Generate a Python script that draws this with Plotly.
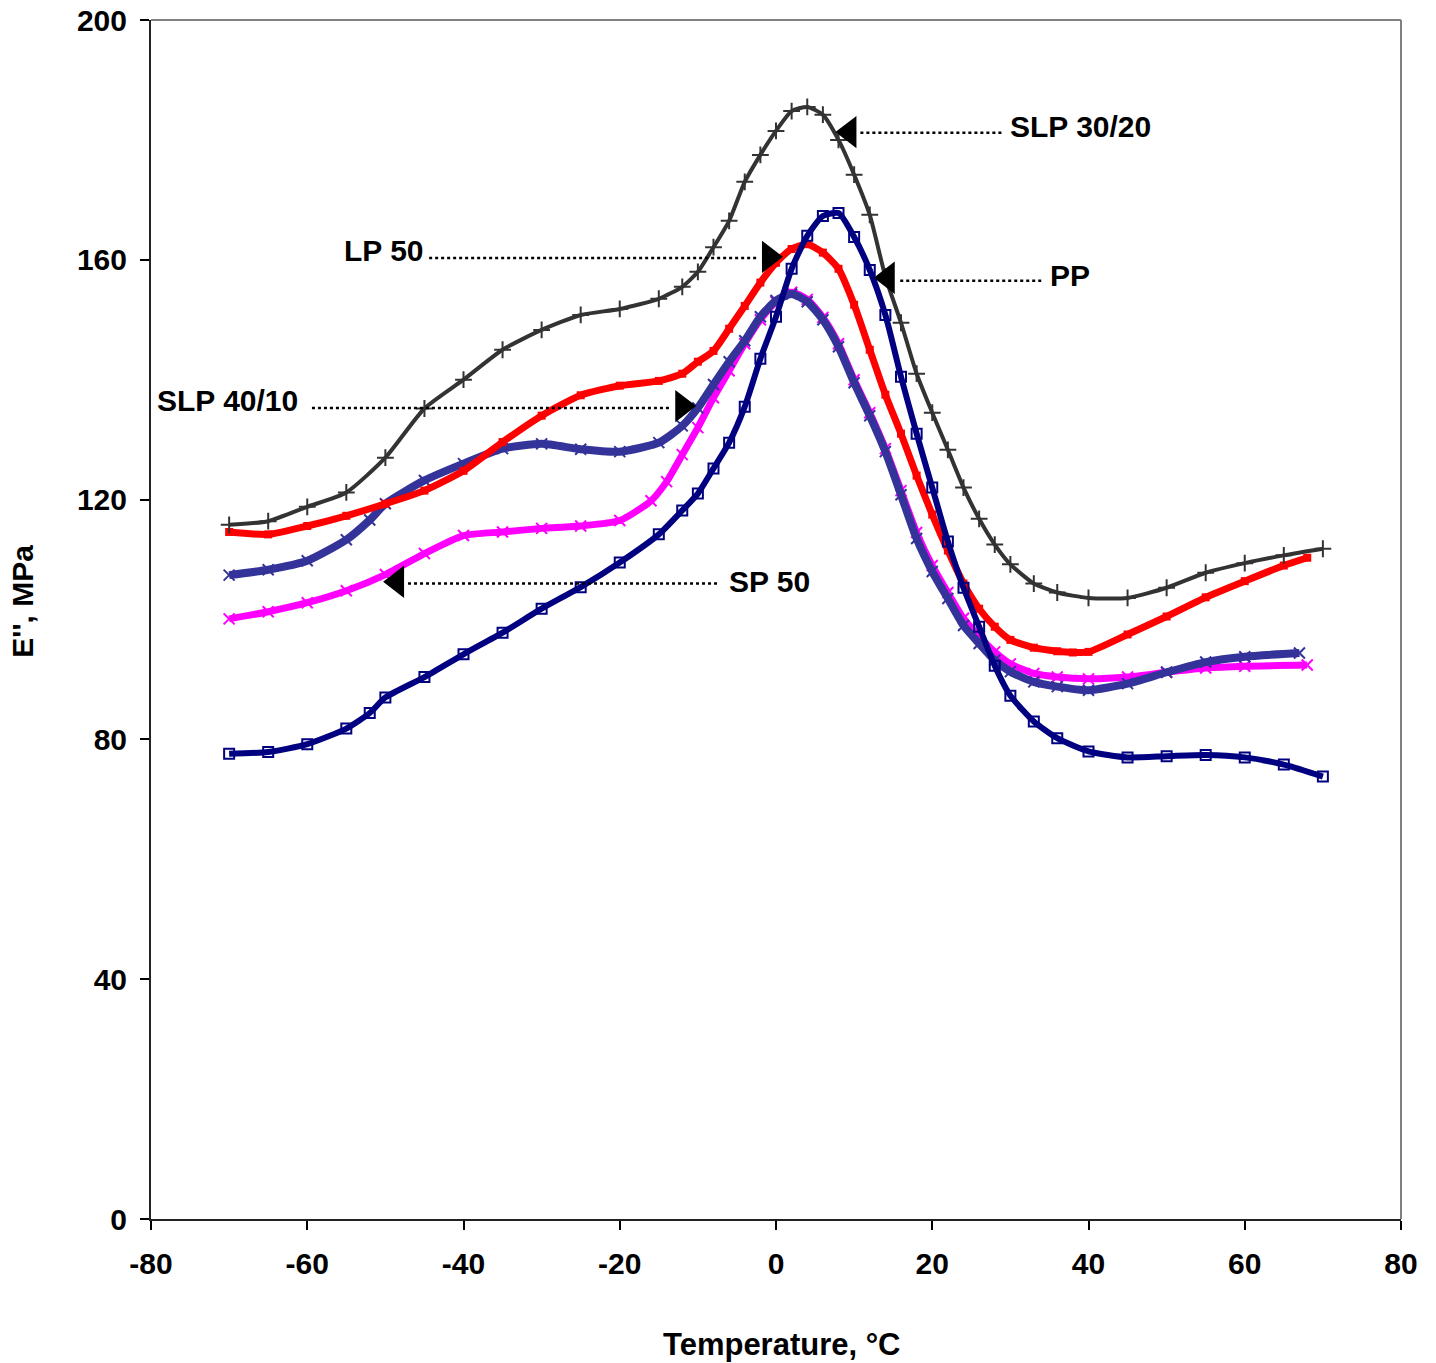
import plotly.graph_objects as go

# ---------------- data ----------------
slp3020_x = [-70, -65, -60, -55, -50, -45, -40, -35, -30, -25, -20, -15, -12, -10, -8, -6, -4, -2, 0, 2, 4, 6, 8, 10,
             12, 14, 16, 18, 20, 22, 24, 26, 28, 30, 33, 36, 40, 45, 50, 55, 60, 65, 70]
slp3020_y = [115.8, 116.4, 118.8, 121.2, 127.0, 135.2, 140.0, 145.0, 148.3, 150.8, 151.8, 153.5, 155.5, 158.0, 162.1,
             166.5, 173.0, 177.5, 181.5, 184.8, 185.5, 184.2, 180.0, 174.2, 167.5, 157.2, 149.5, 141.0, 134.5, 128.3,
             122.0, 116.8, 112.5, 109.2, 106.0, 104.5, 103.6, 103.6, 105.3, 107.8, 109.4, 110.7, 111.8]

lp50_x = [-70, -65, -60, -55, -50, -45, -40, -35, -30, -25, -20, -15, -12, -10, -8, -6, -4, -2, 0, 2, 4, 6, 8, 10,
          12, 14, 16, 18, 20, 22, 24, 26, 28, 30, 33, 36, 38, 40, 45, 50, 55, 60, 65, 68]
lp50_y = [114.6, 114.2, 115.6, 117.3, 119.3, 121.5, 124.8, 129.6, 134.0, 137.4, 139.0, 139.8, 141.0, 143.0, 144.8,
          148.5, 152.3, 156.2, 159.5, 161.8, 162.6, 161.2, 158.5, 152.5, 145.0, 137.5, 131.0, 124.0, 117.5, 111.5,
          106.0, 101.8, 98.8, 96.6, 95.3, 94.7, 94.5, 94.6, 97.5, 100.5, 103.7, 106.4, 109.0, 110.3]

pp_x = [-70, -65, -60, -55, -52, -50, -45, -40, -35, -30, -25, -20, -15, -12, -10, -8, -6, -4, -2, 0, 2, 4, 6, 8,
        10, 12, 14, 16, 18, 20, 22, 24, 26, 28, 30, 33, 36, 40, 45, 50, 55, 60, 65, 70]
pp_y = [77.6, 77.9, 79.2, 81.8, 84.4, 87.0, 90.4, 94.2, 97.8, 101.8, 105.4, 109.5, 114.2, 118.2, 121.0, 125.2, 129.5,
        135.5, 143.5, 150.5, 158.5, 164.0, 167.3, 167.8, 163.8, 158.3, 150.8, 140.5, 131.0, 122.0, 113.0, 105.3,
        98.8, 92.3, 87.3, 83.0, 80.2, 78.0, 77.0, 77.2, 77.4, 77.0, 75.8, 73.8]

slp4010_x = [-70, -65, -60, -55, -52, -50, -45, -40, -35, -30, -25, -20, -15, -12, -10, -8, -6, -4, -2, 0, 2, 4, 6,
             8, 10, 12, 14, 16, 18, 20, 22, 24, 26, 28, 30, 33, 36, 40, 45, 50, 55, 60, 67]
slp4010_y = [107.4, 108.3, 109.8, 113.3, 116.6, 119.3, 123.2, 126.0, 128.5, 129.3, 128.4, 128.0, 129.5, 132.3, 135.3,
             139.2, 143.0, 146.5, 150.5, 153.2, 154.3, 153.0, 150.0, 145.5, 139.5, 134.0, 128.0, 120.8, 113.5, 108.0,
             103.5, 99.0, 96.0, 93.2, 91.3, 89.6, 88.8, 88.2, 89.3, 91.2, 92.9, 93.8, 94.4]

sp50_x = [-70, -65, -60, -55, -50, -45, -40, -35, -30, -25, -20, -16, -14, -12, -10, -8, -6, -4, -2, 0, 2, 4, 6, 8,
          10, 12, 14, 16, 18, 20, 22, 24, 26, 28, 30, 33, 36, 40, 45, 50, 55, 60, 68]
sp50_y = [100.1, 101.3, 102.8, 104.8, 107.5, 111.0, 114.0, 114.6, 115.2, 115.6, 116.5, 119.8, 123.0, 127.5, 132.0,
          137.0, 141.5, 146.0, 150.0, 153.0, 154.6, 153.4, 150.4, 146.0, 140.0, 134.5, 128.5, 121.5, 114.5, 109.0,
          104.5, 100.2, 97.2, 94.6, 92.6, 91.0, 90.4, 90.1, 90.4, 91.2, 91.9, 92.2, 92.4]

x_ticks = [-80, -60, -40, -20, 0, 20, 40, 60, 80]
y_ticks = [0, 40, 80, 120, 160, 200]

# label annotations: text, text anchor (x, y), dotted line (x0, x1, y), arrow (x, y, direction)
labels = [
    ("SLP 30/20", 29.7, 182.3, "left", 10.8, 29.1, 181.2, 9.4, 181.3, "triangle-left"),
    ("LP 50", -44.8, 161.5, "right", -44.4, -2.4, 160.3, -0.9, 160.5, "triangle-right"),
    ("PP", 34.8, 157.3, "left", 15.9, 34.2, 156.5, 14.3, 157.0, "triangle-left"),
    ("SLP 40/10", -60.9, 136.6, "right", -59.4, -13.6, 135.3, -12.0, 135.6, "triangle-right"),
    ("SP 50", -6.3, 106.3, "left", -47.1, -7.2, 106.0, -48.5, 106.3, "triangle-left"),
]

FONT = "Liberation Sans, Arial, sans-serif"

fig = go.Figure()

series = [
    (sp50_x, sp50_y, "SP 50", "#FF00FF", "x-thin", 11, 2, 7),
    (slp4010_x, slp4010_y, "SLP 40/10", "#333399", "x-thin", 11, 2, 8),
    (lp50_x, lp50_y, "LP 50", "#FF0000", "square", 8, 0, 7),
    (pp_x, pp_y, "PP", "#000080", "square-open", 10, 2, 6),
    (slp3020_x, slp3020_y, "SLP 30/20", "#333333", "cross-thin", 12, 2, 4),
]
for xs, ys, name, col, sym, msize, mlw, lw in series:
    fig.add_trace(go.Scatter(
        x=xs, y=ys, name=name, mode="lines+markers",
        line=dict(color=col, width=lw, shape="spline", smoothing=0.6),
        marker=dict(symbol=sym, size=msize, color=col, line=dict(color=col, width=mlw)),
        showlegend=False, hoverinfo="skip",
    ))

# dotted leader lines and label texts
for text, tx, ty, anchor, lx0, lx1, ly, ax, ay, sym in labels:
    fig.add_shape(type="line", x0=lx0, x1=lx1, y0=ly, y1=ly, xref="x", yref="y",
                  line=dict(color="black", width=2.5, dash="dot"))
    fig.add_annotation(x=tx, y=ty, text=f"<b>{text}</b>", showarrow=False, xref="x", yref="y",
                       xanchor=anchor, yanchor="middle",
                       font=dict(family=FONT, size=30, color="black"))

# arrowheads
fig.add_trace(go.Scatter(
    x=[l[7] for l in labels], y=[l[8] for l in labels], mode="markers",
    marker=dict(symbol=[l[9] for l in labels], size=28, color="black"),
    showlegend=False, hoverinfo="skip",
))

# axis titles
fig.add_annotation(x=-0.103, y=0.515, xref="paper", yref="paper", text="<b>E'', MPa</b>", textangle=-90,
                   showarrow=False, xanchor="center", yanchor="middle",
                   font=dict(family=FONT, size=30, color="black"))
fig.add_annotation(x=0.505, y=-0.1045, xref="paper", yref="paper", text="<b>Temperature, °C</b>",
                   showarrow=False, xanchor="center", yanchor="middle",
                   font=dict(family=FONT, size=31, color="black"))

# grey frame top/right
fig.add_shape(type="line", xref="paper", yref="paper", x0=0, x1=1, y0=1, y1=1,
              line=dict(color="#808080", width=2))
fig.add_shape(type="line", xref="paper", yref="paper", x0=1, x1=1, y0=0, y1=1,
              line=dict(color="#808080", width=2))

fig.update_xaxes(range=[-80, 80], tickvals=x_ticks, ticktext=[f"<b>{v}</b>" for v in x_ticks],
                 showgrid=False, zeroline=False, showline=True, linecolor="#222222", linewidth=2,
                 ticks="outside", ticklen=9, tickwidth=1.5, tickcolor="black", automargin=False,
                 tickfont=dict(family=FONT, size=30, color="black"), ticklabelstandoff=8)
fig.update_yaxes(range=[0, 200], tickvals=y_ticks, ticktext=[f"<b>{v}</b>" for v in y_ticks],
                 showgrid=False, zeroline=False, showline=True, linecolor="#222222", linewidth=2,
                 ticks="outside", ticklen=9, tickwidth=1.5, tickcolor="black", automargin=False,
                 tickfont=dict(family=FONT, size=30, color="black"), ticklabelstandoff=7)

fig.update_layout(
    width=1436, height=1363,
    margin=dict(l=151, r=35, t=20, b=144),
    paper_bgcolor="white", plot_bgcolor="white",
)

fig.write_html("out.html")
